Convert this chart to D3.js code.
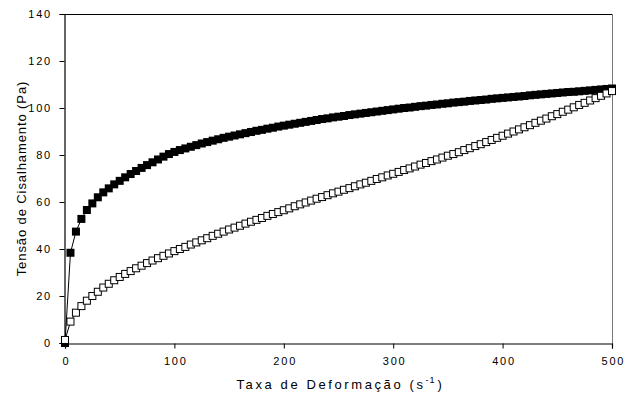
<!DOCTYPE html>
<html>
<head>
<meta charset="utf-8">
<script src="https://cdn.jsdelivr.net/npm/d3@7/dist/d3.min.js"></script>
<style>
  html, body { margin: 0; padding: 0; background: #fff; }
  svg { display: block; }
  text { font-family: "Liberation Sans", Arial, sans-serif; fill: #000; }
</style>
</head>
<body>
<svg id="chart" width="627" height="398"></svg>
<script>
// Shear rate (s^-1)
const shearRate = [
  0, 5, 10, 15, 20, 25, 30, 35, 40, 45, 50, 55, 60, 65, 70, 75, 80, 85, 90, 95,
  100, 105, 110, 115, 120, 125, 130, 135, 140, 145, 150, 155, 160, 165, 170, 175, 180, 185, 190, 195,
  200, 205, 210, 215, 220, 225, 230, 235, 240, 245, 250, 255, 260, 265, 270, 275, 280, 285, 290, 295,
  300, 305, 310, 315, 320, 325, 330, 335, 340, 345, 350, 355, 360, 365, 370, 375, 380, 385, 390, 395,
  400, 405, 410, 415, 420, 425, 430, 435, 440, 445, 450, 455, 460, 465, 470, 475, 480, 485, 490, 495,
  500
];

// Shear stress (Pa), filled squares
const stressFilled = [
  0.0, 38.4, 47.4, 52.8, 56.6, 59.4, 62.0, 64.1, 65.8, 67.5, 69.0, 70.5, 71.9, 73.2, 74.5, 75.7, 76.9, 78.1, 79.3, 80.4,
  81.3, 82.1, 82.8, 83.5, 84.2, 84.9, 85.5, 86.1, 86.7, 87.3, 87.8, 88.3, 88.8, 89.3, 89.8, 90.3, 90.7, 91.2, 91.6, 92.1,
  92.5, 92.9, 93.3, 93.7, 94.1, 94.5, 94.9, 95.3, 95.6, 96.0, 96.3, 96.6, 97.0, 97.3, 97.6, 97.9, 98.2, 98.5, 98.8, 99.1,
  99.4, 99.7, 100.0, 100.2, 100.5, 100.8, 101.0, 101.3, 101.5, 101.8, 102.0, 102.3, 102.5, 102.7, 103.0, 103.2, 103.4, 103.6, 103.9, 104.1,
  104.3, 104.5, 104.7, 104.9, 105.1, 105.4, 105.6, 105.8, 106.0, 106.2, 106.4, 106.6, 106.8, 106.9, 107.1, 107.3, 107.5, 107.7, 107.9, 108.1,
  108.3
];

// Shear stress (Pa), open squares
const stressOpen = [
  1.3, 9.1, 12.9, 15.7, 18.0, 20.0, 21.8, 23.6, 25.2, 26.7, 28.1, 29.4, 30.6, 31.8, 32.9, 34.0, 35.1, 36.1, 37.1, 38.1,
  39.1, 40.0, 40.9, 41.9, 42.8, 43.7, 44.6, 45.6, 46.5, 47.4, 48.3, 49.1, 49.9, 50.8, 51.6, 52.4, 53.2, 54.1, 54.9, 55.7,
  56.5, 57.3, 58.2, 59.0, 59.8, 60.6, 61.4, 62.1, 62.9, 63.7, 64.4, 65.2, 65.9, 66.7, 67.5, 68.2, 69.0, 69.8, 70.5, 71.3,
  72.0, 72.8, 73.6, 74.3, 75.1, 75.9, 76.6, 77.4, 78.1, 78.9, 79.7, 80.4, 81.2, 82.1, 82.9, 83.8, 84.6, 85.5, 86.4, 87.3,
  88.2, 89.1, 90.0, 90.9, 91.8, 92.7, 93.7, 94.6, 95.5, 96.5, 97.4, 98.4, 99.3, 100.3, 101.3, 102.2, 103.2, 104.2, 105.2, 106.2,
  107.2
];

const xTicks = [0, 100, 200, 300, 400, 500];
const yTicks = [0, 20, 40, 60, 80, 100, 120, 140];

const xTitle = "Taxa de Deformação (s";
const xTitleSup = "-1";
const yTitle = "Tensão de Cisalhamento (Pa)";

const svg = d3.select("#chart");
const plotLeft = 65, plotRight = 612, plotTop = 14, plotBottom = 343;

const x = d3.scaleLinear().domain([0, 500]).range([plotLeft, plotRight]);
const y = d3.scaleLinear().domain([0, 140]).range([plotBottom, plotTop]);

const filled = shearRate.map((g, i) => ({ g, t: stressFilled[i] }));
const open = shearRate.map((g, i) => ({ g, t: stressOpen[i] }));

// frame: top and right edges
svg.append("line").attr("x1", plotLeft).attr("x2", plotRight).attr("y1", plotTop + 0.5).attr("y2", plotTop + 0.5)
  .attr("stroke", "#000").attr("stroke-width", 1);
svg.append("line").attr("x1", plotRight + 0.5).attr("x2", plotRight + 0.5).attr("y1", plotTop).attr("y2", plotBottom)
  .attr("stroke", "#777").attr("stroke-width", 1);

// axes
const xAxis = svg.append("g").attr("transform", `translate(0,${plotBottom + 0.5})`)
  .call(d3.axisBottom(x).tickValues(xTicks).tickSize(5).tickPadding(9).tickFormat(d3.format("d")));
const yAxis = svg.append("g").attr("transform", `translate(${plotLeft - 0.5},0)`)
  .call(d3.axisLeft(y).tickValues(yTicks).tickSize(5).tickPadding(9).tickFormat(d3.format("d")));

[xAxis, yAxis].forEach(a => {
  a.select(".domain").attr("stroke", "#000").attr("stroke-width", 1.2);
  a.selectAll(".tick line").attr("stroke", "#000");
  a.selectAll(".tick text")
    .style("font-family", '"Liberation Sans", Arial, sans-serif')
    .style("font-size", "11px")
    .style("letter-spacing", "1.8px")
    .attr("fill", "#000");
});
xAxis.selectAll(".tick text").attr("dx", "0.9px");
yAxis.selectAll(".tick text").attr("dx", "1.5px");

// connecting lines
const line = d3.line().x(d => x(d.g)).y(d => y(d.t));
svg.append("path").datum(open).attr("d", line)
  .attr("fill", "none").attr("stroke", "#000").attr("stroke-width", 1);
svg.append("path").datum(filled).attr("d", line)
  .attr("fill", "none").attr("stroke", "#000").attr("stroke-width", 1);

// markers
const s = 8;
svg.append("g").selectAll("rect").data(filled).join("rect")
  .attr("x", d => x(d.g) - s / 2).attr("y", d => y(d.t) - s / 2)
  .attr("width", s).attr("height", s).attr("fill", "#000");

const so = 7;
svg.append("g").selectAll("rect").data(open).join("rect")
  .attr("x", d => x(d.g) - so / 2).attr("y", d => y(d.t) - so / 2)
  .attr("width", so).attr("height", so)
  .attr("fill", "#fff").attr("stroke", "#000").attr("stroke-width", 1);

// axis titles
const xt = svg.append("text")
  .attr("x", (plotLeft + plotRight) / 2 + 2).attr("y", 389)
  .attr("text-anchor", "middle")
  .style("font-size", "13px").style("letter-spacing", "2.6px");
xt.append("tspan").text(xTitle);
xt.append("tspan").attr("dy", -6).style("font-size", "9px").style("letter-spacing", "1px").text(xTitleSup);
xt.append("tspan").attr("dy", 6).attr("dx", 2).text(")");

svg.append("text")
  .attr("transform", `translate(26,${(plotTop + plotBottom) / 2}) rotate(-90)`)
  .attr("text-anchor", "middle")
  .style("font-size", "13px").style("letter-spacing", "0.9px")
  .text(yTitle);
</script>
</body>
</html>
